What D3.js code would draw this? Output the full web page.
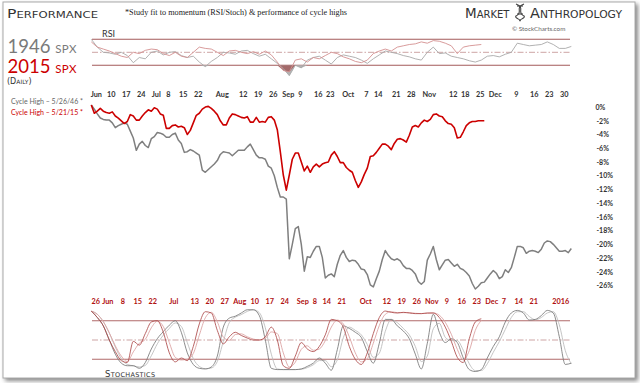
<!DOCTYPE html>
<html><head><meta charset="utf-8">
<script src="https://cdn.jsdelivr.net/npm/d3@7"></script>
<style>
html,body{margin:0;padding:0;background:#fff;}
svg{display:block;}
</style></head>
<body>
<svg id="c" width="640" height="383"></svg>
<script>
// ---------- DATA ----------
// % performance from cycle high, one value per trading day
const spx1946 = [0,-0.6,-1.3,-1.9,-2.1,-2.2,-2.2,-2.6,-3.3,-3.0,-2.8,-2.6,-2.8,-3.8,-4.8,-6.6,-5.7,-5.3,-5.9,-6.2,
-4.9,-4.6,-4.0,-4.1,-4.3,-4.7,-4.7,-4.3,-4.1,-5.1,-5.6,-6.9,-6.8,-6.5,-6.7,-7.0,-7.3,-9.5,-9.8,-9.4,
-9.0,-8.6,-8.1,-7.2,-6.8,-6.9,-7.0,-7.4,-7.0,-6.6,-6.6,-6.6,-6.1,-5.7,-6.5,-7.3,-7.7,-7.7,-7.9,-8.9,
-9.2,-10.3,-12.0,-13.4,-13.4,-13.7,-22.4,-20.3,-18.0,-17.7,-20.3,-24.2,-22.1,-22.2,-21.3,-20.6,-20.6,-22.2,-25.2,-24.8,
-24.6,-25.0,-23.2,-21.9,-21.2,-22.2,-22.8,-22.6,-22.7,-23.2,-23.9,-24.0,-24.7,-26.2,-26.5,-25.3,-24.2,-22.5,-21.2,-21.9,
-22.4,-22.6,-22.4,-22.7,-23.4,-23.8,-23.8,-24.1,-24.6,-25.7,-26.1,-25.7,-22.6,-21.7,-20.6,-22.5,-24.0,-23.3,-22.6,-22.5,
-23.0,-23.5,-23.2,-23.8,-24.0,-24.4,-24.9,-26.0,-26.8,-26.4,-25.9,-25.8,-25.2,-24.6,-24.1,-24.5,-25.3,-25.0,-24.0,-24.4,
-23.7,-22.2,-20.6,-20.6,-20.8,-21.6,-21.3,-21.2,-21.3,-21.5,-21.0,-20.1,-19.8,-19.9,-20.3,-20.8,-21.3,-21.3,-21.2,-21.5,-20.9];
const spx2015 = [0,-1.2,-0.9,-0.5,-0.9,-1.1,-1.2,-1.0,-1.6,-1.9,-2.3,-2.7,-2.4,-1.4,-1.6,-2.2,-2.2,-1.6,-1.1,-0.7,
-0.9,-0.4,-0.6,-1.3,-1.5,-3.4,-3.4,-3.0,-2.9,-3.2,-3.1,-3.3,-4.3,-3.7,-2.6,-1.5,-1.2,-0.6,-0.3,-0.2,
-0.5,-0.9,-1.4,-2.3,-2.9,-2.9,-1.9,-1.3,-1.4,-1.6,-1.8,-1.9,-1.7,-2.5,-2.5,-1.8,-2.5,-2.4,-2.5,-1.8,
-1.7,-2.2,-3.6,-6.8,-10.2,-12.4,-10.2,-7.9,-7.0,-7.0,-8.3,-9.6,-8.9,-9.8,-9.0,-8.6,-9.0,-8.6,-8.4,-8.3,
-7.3,-6.8,-7.5,-8.4,-8.4,-9.1,-9.5,-9.8,-11.0,-12.0,-11.2,-10.1,-9.2,-7.5,-7.4,-6.9,-6.3,-5.7,-5.7,-6.0,
-6.5,-5.6,-5.0,-4.9,-5.1,-5.4,-4.4,-3.2,-3.0,-3.2,-2.6,-2.2,-2.4,-2.1,-1.4,-1.3,-1.6,-1.7,-2.3,-2.7,
-2.8,-3.3,-4.8,-4.7,-3.9,-3.0,-2.6,-2.4,-2.4,-2.3,-2.3,-2.3];
// RSI, one value every 2 trading days
const rsi1946 = [70,58,50,49,47,50,45,34,42,40,50,52,46,50,51,45,42,44,35,28,36,42,50,49,47,52,53,48,44,47,
40,33,25,14,30,26,38,42,44,38,32,42,46,44,42,38,33,40,46,52,50,48,45,43,40,38,50,58,48,49,
44,42,40,37,35,38,44,45,43,47,50,64,62,60,61,62,66,62,56,56,59];
const rsi2015 = [66,58,55,52,48,44,42,50,48,53,55,54,48,45,50,44,42,50,58,56,55,50,45,52,53,50,48,51,47,52,
46,35,22,20,38,40,35,42,40,45,50,48,43,40,36,34,38,48,52,55,52,58,60,62,63,66,64,68,67,64,60,48,58,60,61,62];
// Stochastic %K, one value every 2 trading days
const stoch1946 = [95,85,72,50,28,14,10,10,6,15,36,52,63,73,80,62,30,12,6,5,8,25,70,84,87,92,97,97,88,50,
6,4,4,4,4,5,9,14,22,14,3,35,72,68,62,54,32,14,45,82,82,72,64,52,28,5,45,90,62,46,
52,46,22,4,1,4,22,40,55,78,92,96,92,81,82,88,96,92,55,12,14];
const stoch2015 = [95,85,72,50,32,18,15,48,42,60,78,80,62,30,16,22,18,40,75,94,92,65,44,55,62,57,53,50,50,55,
70,50,10,6,25,46,36,32,40,58,82,80,70,40,20,12,30,60,85,95,93,92,93,92,91,91,92,92,85,70,48,23,15,52,78,83];
// axis ticks (trading-day index, label)
const ticks1946 = [[2,"Jun"],[7,"10"],[12,"17"],[17,"24"],[22,"Jul"],[26,"8"],[31,"15"],[36,"22"],[44,"Aug"],[51,"12"],
[56,"19"],[61,"26"],[66,"Sep"],[70,"9"],[76,"16"],[80,"23"],[86,"Oct"],[92,"7"],[96,"14"],[102,"21"],[107,"28"],[113,"Nov"],
[121,"12"],[125,"18"],[130,"25"],[135,"Dec"],[142,"9"],[148,"16"],[153,"23"],[158,"30"]];
const ticks2015 = [[2,"26"],[6,"Jun"],[11,"8"],[16,"15"],[21,"22"],[28,"Jul"],[35,"13"],[40,"20"],[45,"27"],[50,"Aug"],
[55,"10"],[60,"17"],[65,"24"],[71,"Sep"],[75,"8"],[79,"14"],[84,"21"],[92,"Oct"],[99,"12"],[104,"19"],[109,"26"],[114,"Nov"],
[119,"9"],[124,"16"],[129,"23"],[134,"Dec"],[138,"7"],[143,"14"],[148,"21"],[157,"2016"]];
const pctTicks = [0,-2,-4,-6,-8,-10,-12,-14,-16,-18,-20,-22,-24,-26];

// ---------- DRAW ----------
const svg = d3.select("#c");
const defs = svg.append("defs");
const f = defs.append("filter").attr("id","sh").attr("x","-5%").attr("y","-5%").attr("width","110%").attr("height","110%");
f.append("feGaussianBlur").attr("stdDeviation",2);

svg.append("rect").attr("x",5).attr("y",4).attr("width",633).attr("height",377).attr("fill","#888").attr("filter","url(#sh)");
svg.append("rect").attr("x",3).attr("y",2).attr("width",632).attr("height",376).attr("fill","#fff").attr("stroke","#aaa").attr("stroke-width",1);

const x = d3.scaleLinear().domain([0,160]).range([91.3,571.3]);
const y = d3.scaleLinear().domain([0,-26]).range([105,283.5]);
const yR = d3.scaleLinear().domain([30,70]).range([65.3,39.3]);
const yS = d3.scaleLinear().domain([20,80]).range([359.3,320.7]);
const xL = 92, xRgt = 570;
const axisFont = "Lato, 'Open Sans', sans-serif";

// --- RSI panel ---
const rp = svg.append("g");
[70,30].forEach(v=>{
  rp.append("line").attr("x1",xL).attr("x2",xRgt).attr("y1",yR(v)).attr("y2",yR(v)).attr("stroke","#a35a5a").attr("stroke-width",1.1);
});
rp.append("line").attr("x1",xL).attr("x2",xRgt).attr("y1",yR(50)).attr("y2",yR(50)).attr("stroke","#c79a9a").attr("stroke-width",0.9).attr("stroke-dasharray","6,2,1.5,2");
function rsiArea(arr, col){
  const a = d3.area().x((d,i)=>x(i*2)).y0(yR(30)).y1(d=>yR(Math.min(d,30))).curve(d3.curveLinear);
  rp.append("path").datum(arr).attr("d",a).attr("fill",col);
}
rsiArea(rsi1946,"#b3b3b3");
rsiArea(rsi2015,"#a46a6a");
const rl = d3.line().x((d,i)=>x(i*2)).y(d=>yR(d));
rp.append("path").datum(rsi1946).attr("d",rl).attr("fill","none").attr("stroke","#a8a8a8").attr("stroke-width",0.9);
rp.append("path").datum(rsi2015).attr("d",rl).attr("fill","none").attr("stroke","#d49090").attr("stroke-width",0.9);
rp.append("text").attr("x",102).attr("y",36.5).attr("font-family",axisFont).attr("font-size",9).attr("fill","#333").text("RSI");

// --- top axis (1946) ---
svg.append("g").selectAll("text").data(ticks1946).join("text")
  .attr("x",d=>x(d[0])-1).attr("y",97).attr("text-anchor","middle")
  .attr("font-family",axisFont).attr("font-weight","bold").attr("font-size",7.3).attr("fill","#333").text(d=>d[1]);

// --- bottom axis (2015) ---
svg.append("g").selectAll("text").data(ticks2015).join("text")
  .attr("x",d=>x(d[0])-1.5).attr("y",303.5).attr("text-anchor","middle")
  .attr("font-family",axisFont).attr("font-weight","bold").attr("font-size",7.3).attr("fill","#b01010").text(d=>d[1]);

// --- right % axis ---
svg.append("g").selectAll("text").data(pctTicks).join("text")
  .attr("x",d=>d===0?595.5:596.5).attr("y",d=>y(d)+4.8)
  .attr("font-family",axisFont).attr("font-weight","bold").attr("font-size",7).attr("fill","#333").text(d=>d+"%");

// --- main lines ---
const ml = d3.line().x((d,i)=>x(i)).y(d=>y(d));
svg.append("path").datum(spx1946).attr("d",ml).attr("fill","none").attr("stroke","#7f7f7f").attr("stroke-width",1.5).attr("stroke-linejoin","round");
svg.append("path").datum(spx2015).attr("d",ml).attr("fill","none").attr("stroke","#cc0000").attr("stroke-width",1.6).attr("stroke-linejoin","round");

// --- stochastics panel ---
const sp = svg.append("g");
[80,20].forEach(v=>{
  sp.append("line").attr("x1",xL).attr("x2",xRgt).attr("y1",yS(v)).attr("y2",yS(v)).attr("stroke","#b06a6a").attr("stroke-width",1.1);
});
sp.append("line").attr("x1",xL).attr("x2",xRgt).attr("y1",yS(50)).attr("y2",yS(50)).attr("stroke","#c79a9a").attr("stroke-width",0.9).attr("stroke-dasharray","6,2,1.5,2");
const sl = d3.line().x((d,i)=>x(i*2)).y(d=>yS(d)).curve(d3.curveMonotoneX);
const sig = arr => arr.map((v,i)=>d3.mean(arr.slice(Math.max(0,i-1),i+1)));
sp.append("path").datum(sig(stoch1946)).attr("d",sl).attr("fill","none").attr("stroke","#bdbdbd").attr("stroke-width",0.9);
sp.append("path").datum(stoch1946).attr("d",sl).attr("fill","none").attr("stroke","#777").attr("stroke-width",0.85);
sp.append("path").datum(sig(stoch2015)).attr("d",sl).attr("fill","none").attr("stroke","#dca5a5").attr("stroke-width",0.9);
sp.append("path").datum(stoch2015).attr("d",sl).attr("fill","none").attr("stroke","#ad4a4a").attr("stroke-width",0.85);
const st = svg.append("text").attr("x",105).attr("y",376.5).attr("font-family","'DejaVu Sans', sans-serif").attr("fill","#333").attr("letter-spacing",0.3);
st.append("tspan").attr("font-size",8.5).text("S");
st.append("tspan").attr("font-size",6.5).text("TOCHASTICS");

// --- titles ---
const t = svg.append("text").attr("x",7).attr("y",18.3).attr("font-family","'DejaVu Sans', sans-serif").attr("fill","#333")
  .attr("textLength",91).attr("lengthAdjust","spacingAndGlyphs");
t.append("tspan").attr("font-size",12.5).text("P");
t.append("tspan").attr("font-size",9.3).text("ERFORMANCE");
svg.append("text").attr("x",125).attr("y",15.3).attr("font-family","'Liberation Serif', serif").attr("font-size",8.3).attr("fill","#222")
  .attr("textLength",222).attr("lengthAdjust","spacingAndGlyphs").text("*Study fit to momentum (RSI/Stoch) & performance of cycle highs");

const mk = svg.append("text").attr("x",465).attr("y",18.3).attr("font-family","'DejaVu Sans', sans-serif").attr("fill","#333");
mk.append("tspan").attr("font-size",13.5).text("M");
mk.append("tspan").attr("font-size",10).text("ARKET");
const an = svg.append("text").attr("x",530).attr("y",18.3).attr("font-family","'DejaVu Sans', sans-serif").attr("fill","#333").attr("textLength",92).attr("lengthAdjust","spacingAndGlyphs");
an.append("tspan").attr("font-size",13.5).text("A");
an.append("tspan").attr("font-size",10).text("NTHROPOLOGY");
// helix logo
const lg = svg.append("g").attr("stroke","#444").attr("fill","none").attr("stroke-width",1.1);
lg.append("path").attr("d","M516,4 C526,8 516,12 524,16 C526,18 518,20 520,21");
lg.append("path").attr("d","M524,4 C514,8 524,12 516,16 C514,18 522,20 520,21");
lg.append("line").attr("x1",517).attr("x2",523).attr("y1",6).attr("y2",6);
lg.append("line").attr("x1",517).attr("x2",523).attr("y1",14).attr("y2",14);
svg.append("text").attr("x",512).attr("y",30.5).attr("font-family",axisFont).attr("font-size",6.3).attr("fill","#666").text("© StockCharts.com");

// left labels
const l1 = svg.append("text").attr("x",7.5).attr("y",53.3).attr("font-family","Lato, sans-serif").attr("fill","#7a7a7a");
l1.append("tspan").attr("font-size",18.5).text("1946 ");
l1.append("tspan").attr("font-size",11.5).attr("letter-spacing",0.4).text("SPX");
const l2 = svg.append("text").attr("x",7.5).attr("y",73.3).attr("font-family","Lato, sans-serif").attr("fill","#cc0000");
l2.append("tspan").attr("font-size",18.5).text("2015 ");
l2.append("tspan").attr("font-size",11.5).attr("letter-spacing",0.4).text("SPX");
const l3 = svg.append("text").attr("x",7).attr("y",84).attr("font-family","'DejaVu Sans', sans-serif").attr("fill","#333");
l3.append("tspan").attr("font-size",8).text("(D");
l3.append("tspan").attr("font-size",6).text("AILY");
l3.append("tspan").attr("font-size",8).text(")");

svg.append("text").attr("x",83).attr("y",104).attr("text-anchor","end").attr("font-family",axisFont).attr("font-size",7).attr("fill","#666").text("Cycle High – 5/26/46 *");
svg.append("text").attr("x",83).attr("y",114.5).attr("text-anchor","end").attr("font-family",axisFont).attr("font-size",7).attr("fill","#cc0000").text("Cycle High – 5/21/15 *");
</script>
</body></html>
